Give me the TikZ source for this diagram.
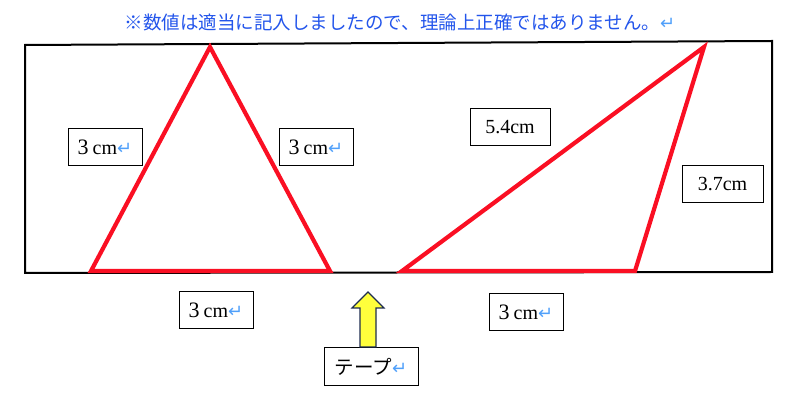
\documentclass[tikz,border=0pt]{standalone}
\usepackage{fontspec}
\setmainfont{Liberation Serif}
\newfontfamily\jpfont{Noto Sans CJK JP}
\newfontfamily\markfont{DejaVu Sans}
\usepackage{tikz}

\definecolor{noteblue}{RGB}{35,85,235}
\definecolor{markblue}{RGB}{80,160,250}
\definecolor{sidered}{RGB}{250,15,35}
\definecolor{arrowyellow}{RGB}{255,255,60}
\definecolor{arrownavy}{RGB}{30,45,80}
\newcommand{\retmark}{{\markfont\fontsize{18}{18}\selectfont\color{markblue}↵}}
\newcommand{\threecm}{{\fontsize{22}{22}\selectfont 3}\hspace{.2em}cm\retmark}

\begin{document}
\begin{tikzpicture}[x=1pt, y=-1pt,
		lenbox/.style={draw, line width=1pt, minimum width=74pt, minimum height=37pt, inner sep=0pt, font=\fontsize{20}{20}\selectfont},
		redside/.style={sidered, line width=4.2pt, line join=miter},
	]
		\useasboundingbox (0,0) rectangle (788,403);
		% note
		\node[font=\jpfont\fontsize{18.5}{18.5}\selectfont, text=noteblue, inner sep=0pt] (note) at (400,22) {※数値は適当に記入しましたので、理論上正確ではありません。\retmark};
		% tape
		\draw[line width=2pt] (25,45) -- (772,41) -- (772,272) -- (25,273) -- cycle;
		% triangles
		\coordinate (a1) at (210,47);
		\coordinate (a2) at (91,271);
		\coordinate (a3) at (330,271);
		\draw[redside] (a1) -- (a2) -- (a3) -- cycle;
		\coordinate (b1) at (704,47);
		\coordinate (b2) at (402,271);
		\coordinate (b3) at (635,271);
		\draw[redside] (b1) -- (b2) -- (b3) -- cycle;
		% lengths
		\node[lenbox] (aleft) at (105,147.5) {\threecm};
		\node[lenbox] (aright) at (316,147.5) {\threecm};
		\node[lenbox] (abase) at (216,310.5) {\threecm};
		\node[lenbox, minimum width=80pt] (blong) at (510,127.5) {5.4cm};
		\node[lenbox, minimum width=81pt] (bside) at (722.5,184.5) {3.7cm};
		\node[lenbox] (bbase) at (526,312.5) {\threecm};
		% tape label
		\node[lenbox, minimum width=94pt, minimum height=38pt, font=\jpfont\fontsize{19.5}{19.5}\selectfont] (tape) at (371,367) {テープ\retmark};
		\filldraw[fill=arrowyellow, draw=arrownavy, line width=1.2pt, line join=miter] (368,292) -- (384,308) -- (376,308) -- (376,347) -- (360,347) -- (360,308) -- (352,308) -- cycle;
	\end{tikzpicture}
\end{document}
